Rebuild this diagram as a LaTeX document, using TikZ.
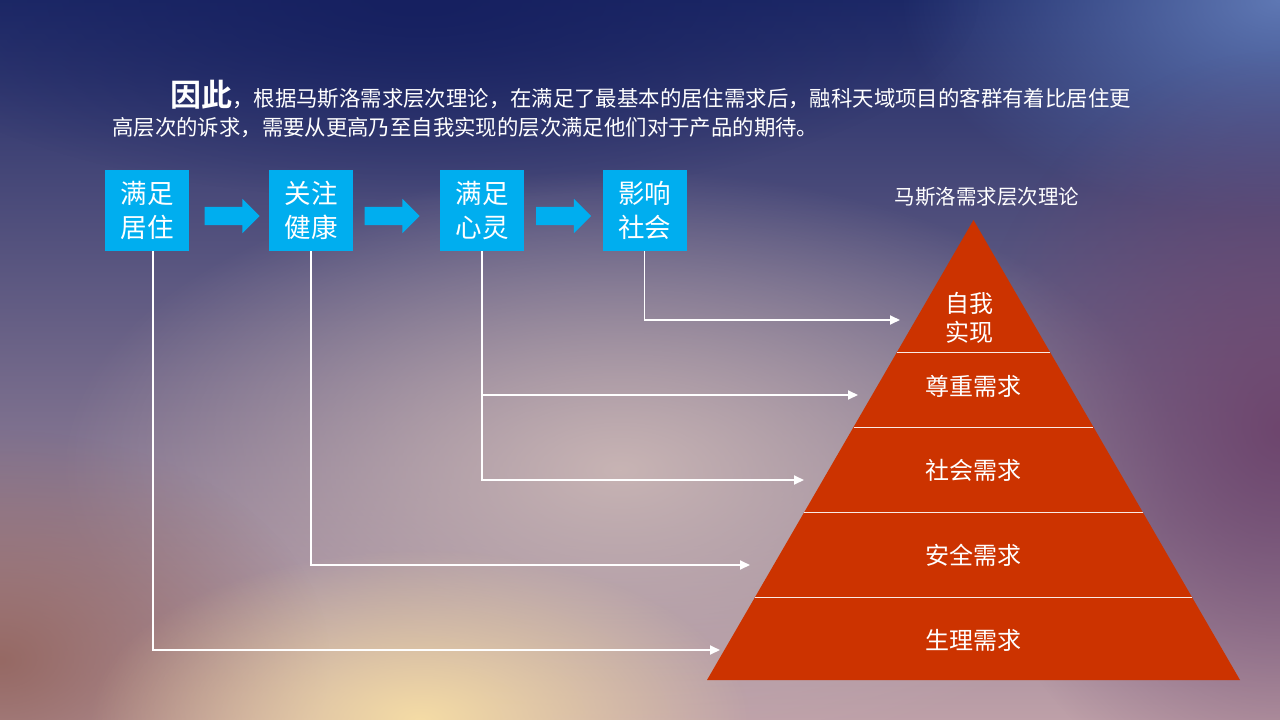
\documentclass[tikz,border=0pt]{standalone}
\usepackage{fontspec}
\setmainfont{Noto Sans CJK SC}[BoldFont={Noto Sans CJK SC Bold}]
\usetikzlibrary{shapes.arrows,positioning,arrows.meta,fadings}
\definecolor{skyblue}{RGB}{0,174,239}
\definecolor{pyrred}{RGB}{204,51,0}
\definecolor{bgtop}{RGB}{30,42,104}
\definecolor{bgbot}{RGB}{190,160,168}
\definecolor{bgmid}{RGB}{200,180,180}
\definecolor{bgsky}{RGB}{95,120,180}
\definecolor{bgnavy}{RGB}{22,32,96}
\definecolor{bgplum}{RGB}{110,70,110}
\definecolor{bgrust}{RGB}{150,105,100}
\definecolor{bgsun}{RGB}{245,220,165}
\tikzfading[name=glow, inner color=transparent!0, outer color=transparent!100]

\begin{document}
\begin{tikzpicture}[x=1pt,y=-1pt,
    stagebox/.style={fill=skyblue, text=white, minimum width=84pt, minimum height=81pt, inner sep=0pt, align=center, font=\fontsize{26.5}{34}\selectfont},
    stagearrow/.style={single arrow, fill=skyblue, minimum height=55pt, inner xsep=0pt, inner ysep=9pt, single arrow head extend=8pt},
    layer/.style={text=white, align=center, font=\fontsize{24}{29}\selectfont},
    conn/.style={draw=white, line width=1.8pt, -{Triangle[length=10pt,width=9pt]}}
]
    \useasboundingbox (0,0) rectangle (1280,720);
    % background
    \begin{scope}
        \clip (0,0) rectangle (1280,720);
        \shade[top color=bgtop, bottom color=bgbot] (0,0) rectangle (1280,720);
        \fill[bgmid, path fading=glow] (620,470) ellipse (560 and 300);
        \fill[bgsky, path fading=glow] (1280,0) ellipse (380 and 220);
        \fill[bgnavy, path fading=glow] (420,0) ellipse (560 and 200);
        \fill[bgplum, path fading=glow] (1280,430) ellipse (320 and 380);
        \fill[bgrust, path fading=glow] (0,660) ellipse (330 and 230);
        \fill[bgsun, path fading=glow] (420,720) ellipse (330 and 170);
    \end{scope}

    % text
    \node[text=white, anchor=base west, inner sep=0pt, font=\fontsize{21.4}{30}\selectfont] (line1) at (170,106)
        {{\bfseries\fontsize{31}{31}\selectfont 因此}，根据马斯洛需求层次理论，在满足了最基本的居住需求后，融科天域项目的客群有着比居住更};
    \node[text=white, anchor=base west, inner sep=0pt, font=\fontsize{21.4}{30}\selectfont] (line2) at (112,135)
        {高层次的诉求，需要从更高乃至自我实现的层次满足他们对于产品的期待。};

    % stages
    \node[stagebox] (b1) at (147,210.5) {满足\\居住};
    \node[stagebox] (b2) at (311,210.5) {关注\\健康};
    \node[stagebox] (b3) at (482,210.5) {满足\\心灵};
    \node[stagebox] (b4) at (644.5,210.5) {影响\\社会};
    \node[stagearrow] (a1) at (227.5,216) {};
    \node[stagearrow] (a2) at (387.5,216) {};
    \node[stagearrow] (a3) at (559,216) {};

    % pyramid
    \node[text=white, font=\fontsize{20.5}{24}\selectfont] (title) at (987,197) {马斯洛需求层次理论};
    \fill[pyrred] (973.5,220) -- (1240,680) -- (707,680) -- cycle;
    \foreach \yy in {352,427,512,597}
        \draw[white!90!pyrred, line width=0.8pt] ({973.5-(\yy-220)*0.5793},\yy) -- ({973.5+(\yy-220)*0.5793},\yy);
    \node[layer] (l5) at (969,318) {自我\\实现};
    \node[layer] (l4) at (973,386) {尊重需求};
    \node[layer] (l3) at (973,470) {社会需求};
    \node[layer] (l2) at (973,555) {安全需求};
    \node[layer] (l1) at (973,640) {生理需求};

    % connectors
    \coordinate (t1) at (720,650);
    \coordinate (t2) at (750,565);
    \coordinate (t3) at (804,480);
    \coordinate (t4) at (858,395);
    \coordinate (t5) at (900,320);
    \draw[conn] ([xshift=6pt]b1.south) |- (t1);
    \draw[conn] (b2.south) |- (t2);
    \draw[conn] (b3.south) |- (t3);
    \draw[conn] (b3.south) |- (t4);
    \draw[conn] (b4.south) |- (t5);
\end{tikzpicture}
\end{document}
